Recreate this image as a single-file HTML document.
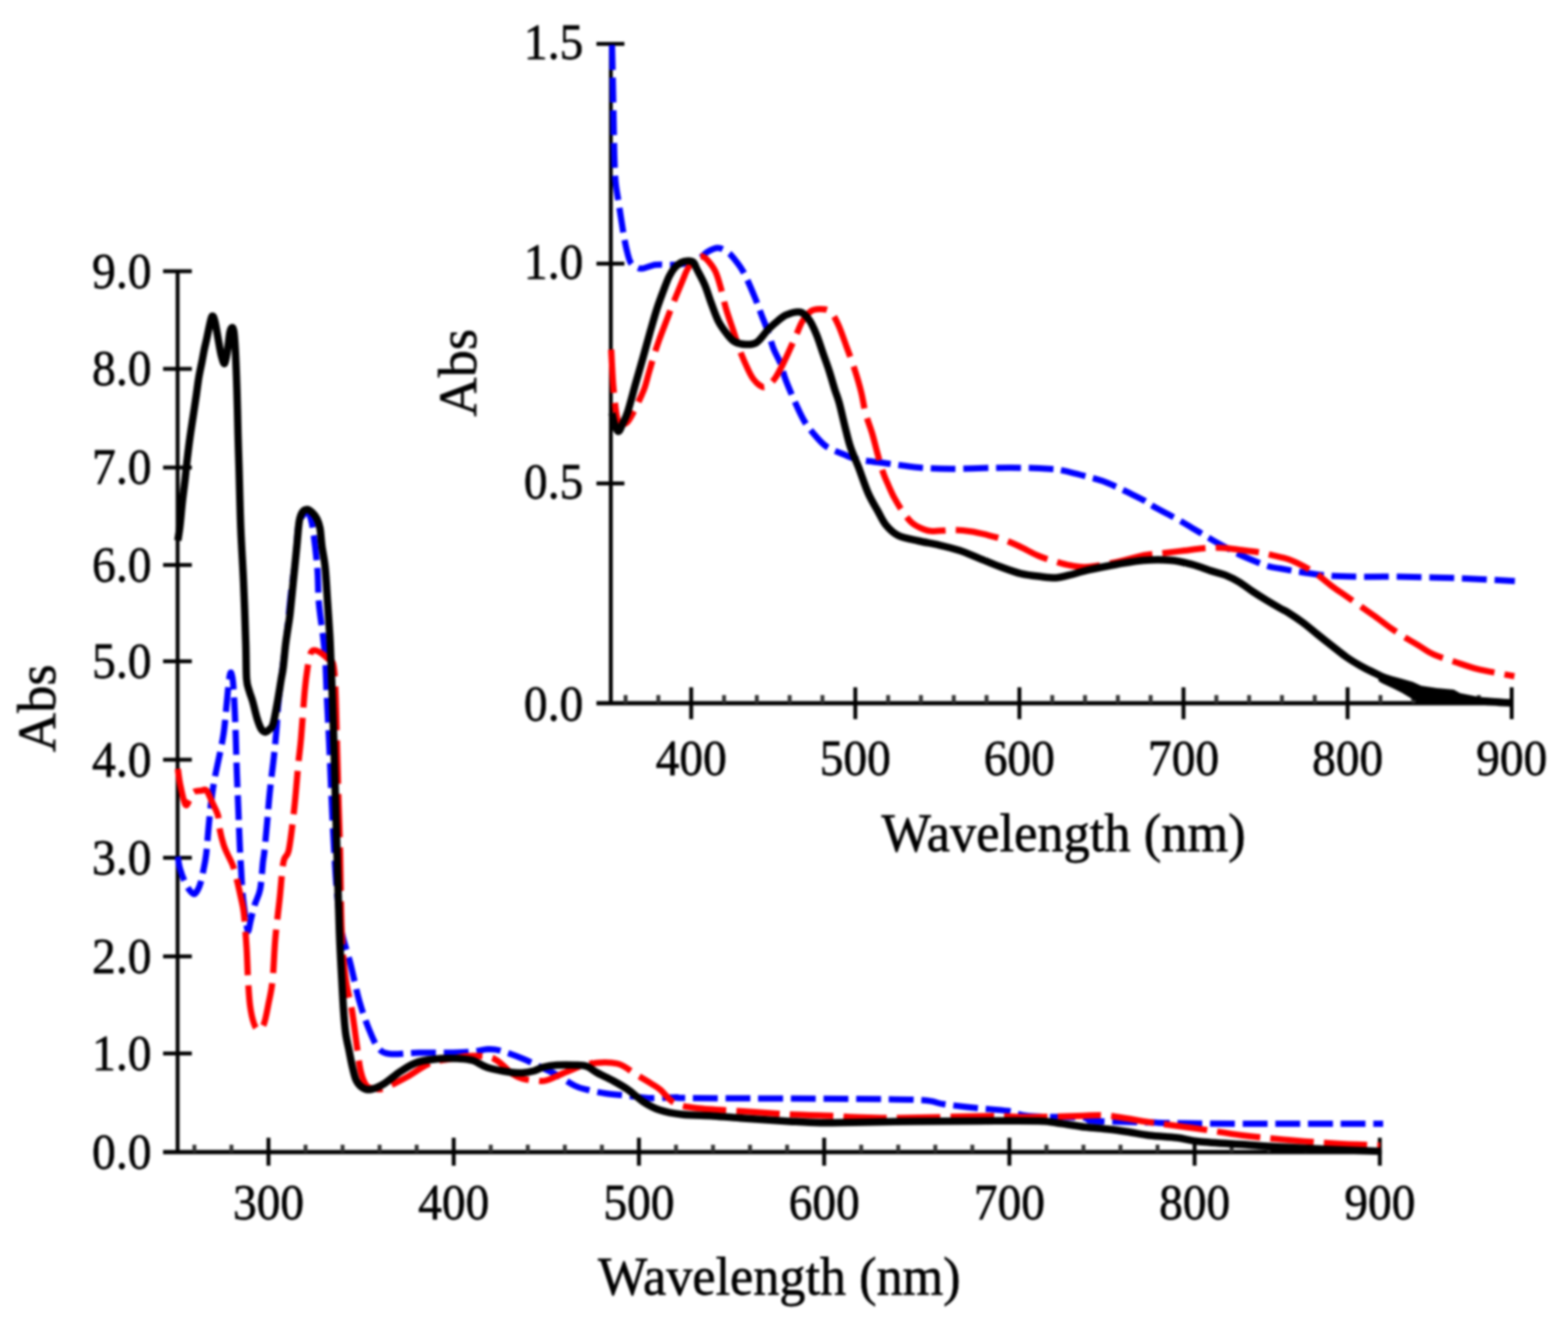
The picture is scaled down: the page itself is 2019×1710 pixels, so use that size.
<!DOCTYPE html>
<html><head><meta charset="utf-8"><title>Absorbance spectra</title>
<style>
html,body{margin:0;padding:0;background:#fff;}
body{width:2019px;height:1710px;overflow:hidden;}
svg{display:block;filter:blur(1.8px);}
text{font-family:'Liberation Serif','Times New Roman',Times,serif;fill:#000;stroke:#000;stroke-width:0.8px;}
.tk{font-size:65px;}
.ax{font-size:70px;}
.ab{font-size:70px;}
</style></head><body>
<svg width="2019" height="1710" viewBox="0 0 2019 1710">
<rect width="2019" height="1710" fill="#fff"/>

<g stroke="#000" fill="none" stroke-linecap="butt">
<line x1="228.7" y1="349" x2="228.7" y2="1486.0" stroke-width="5"/>
<line x1="210" y1="1483.5" x2="1779.2" y2="1483.5" stroke-width="5.5"/>
<line x1="210" y1="1483.5" x2="247" y2="1483.5" stroke-width="5"/>
<line x1="210" y1="1356.5" x2="247" y2="1356.5" stroke-width="5"/>
<line x1="210" y1="1231.6" x2="247" y2="1231.6" stroke-width="5"/>
<line x1="210" y1="1104.6" x2="247" y2="1104.6" stroke-width="5"/>
<line x1="210" y1="978.2" x2="247" y2="978.2" stroke-width="5"/>
<line x1="210" y1="851.5" x2="247" y2="851.5" stroke-width="5"/>
<line x1="210" y1="727.6" x2="247" y2="727.6" stroke-width="5"/>
<line x1="210" y1="602.0" x2="247" y2="602.0" stroke-width="5"/>
<line x1="210" y1="475.0" x2="247" y2="475.0" stroke-width="5"/>
<line x1="210" y1="349.3" x2="247" y2="349.3" stroke-width="5"/>
<line x1="345.7" y1="1465" x2="345.7" y2="1501" stroke-width="5"/>
<line x1="584.2" y1="1465" x2="584.2" y2="1501" stroke-width="5"/>
<line x1="822.7" y1="1465" x2="822.7" y2="1501" stroke-width="5"/>
<line x1="1061.2" y1="1465" x2="1061.2" y2="1501" stroke-width="5"/>
<line x1="1299.7" y1="1465" x2="1299.7" y2="1501" stroke-width="5"/>
<line x1="1538.2" y1="1465" x2="1538.2" y2="1501" stroke-width="5"/>
<line x1="1776.7" y1="1465" x2="1776.7" y2="1501" stroke-width="5"/>
<line x1="250.3" y1="1474" x2="250.3" y2="1483.5" stroke-width="5" stroke="#333"/>
<line x1="298.0" y1="1474" x2="298.0" y2="1483.5" stroke-width="5" stroke="#333"/>
<line x1="393.4" y1="1474" x2="393.4" y2="1483.5" stroke-width="5" stroke="#333"/>
<line x1="441.1" y1="1474" x2="441.1" y2="1483.5" stroke-width="5" stroke="#333"/>
<line x1="488.8" y1="1474" x2="488.8" y2="1483.5" stroke-width="5" stroke="#333"/>
<line x1="536.5" y1="1474" x2="536.5" y2="1483.5" stroke-width="5" stroke="#333"/>
<line x1="631.9" y1="1474" x2="631.9" y2="1483.5" stroke-width="5" stroke="#333"/>
<line x1="679.6" y1="1474" x2="679.6" y2="1483.5" stroke-width="5" stroke="#333"/>
<line x1="727.3" y1="1474" x2="727.3" y2="1483.5" stroke-width="5" stroke="#333"/>
<line x1="775.0" y1="1474" x2="775.0" y2="1483.5" stroke-width="5" stroke="#333"/>
<line x1="870.4" y1="1474" x2="870.4" y2="1483.5" stroke-width="5" stroke="#333"/>
<line x1="918.1" y1="1474" x2="918.1" y2="1483.5" stroke-width="5" stroke="#333"/>
<line x1="965.8" y1="1474" x2="965.8" y2="1483.5" stroke-width="5" stroke="#333"/>
<line x1="1013.5" y1="1474" x2="1013.5" y2="1483.5" stroke-width="5" stroke="#333"/>
<line x1="1108.9" y1="1474" x2="1108.9" y2="1483.5" stroke-width="5" stroke="#333"/>
<line x1="1156.6" y1="1474" x2="1156.6" y2="1483.5" stroke-width="5" stroke="#333"/>
<line x1="1204.3" y1="1474" x2="1204.3" y2="1483.5" stroke-width="5" stroke="#333"/>
<line x1="1252.0" y1="1474" x2="1252.0" y2="1483.5" stroke-width="5" stroke="#333"/>
<line x1="1347.4" y1="1474" x2="1347.4" y2="1483.5" stroke-width="5" stroke="#333"/>
<line x1="1395.1" y1="1474" x2="1395.1" y2="1483.5" stroke-width="5" stroke="#333"/>
<line x1="1442.8" y1="1474" x2="1442.8" y2="1483.5" stroke-width="5" stroke="#333"/>
<line x1="1490.5" y1="1474" x2="1490.5" y2="1483.5" stroke-width="5" stroke="#333"/>
<line x1="1585.9" y1="1474" x2="1585.9" y2="1483.5" stroke-width="5" stroke="#333"/>
<line x1="1633.6" y1="1474" x2="1633.6" y2="1483.5" stroke-width="5" stroke="#333"/>
<line x1="1681.3" y1="1474" x2="1681.3" y2="1483.5" stroke-width="5" stroke="#333"/>
<line x1="1729.0" y1="1474" x2="1729.0" y2="1483.5" stroke-width="5" stroke="#333"/>
</g>
<text class="tk" x="195" y="1504.8" text-anchor="end" textLength="76.4" lengthAdjust="spacingAndGlyphs">0.0</text>
<text class="tk" x="195" y="1377.8" text-anchor="end" textLength="76.4" lengthAdjust="spacingAndGlyphs">1.0</text>
<text class="tk" x="195" y="1252.9" text-anchor="end" textLength="76.4" lengthAdjust="spacingAndGlyphs">2.0</text>
<text class="tk" x="195" y="1125.9" text-anchor="end" textLength="76.4" lengthAdjust="spacingAndGlyphs">3.0</text>
<text class="tk" x="195" y="999.5" text-anchor="end" textLength="76.4" lengthAdjust="spacingAndGlyphs">4.0</text>
<text class="tk" x="195" y="872.8" text-anchor="end" textLength="76.4" lengthAdjust="spacingAndGlyphs">5.0</text>
<text class="tk" x="195" y="748.9" text-anchor="end" textLength="76.4" lengthAdjust="spacingAndGlyphs">6.0</text>
<text class="tk" x="195" y="623.3" text-anchor="end" textLength="76.4" lengthAdjust="spacingAndGlyphs">7.0</text>
<text class="tk" x="195" y="496.3" text-anchor="end" textLength="76.4" lengthAdjust="spacingAndGlyphs">8.0</text>
<text class="tk" x="195" y="370.6" text-anchor="end" textLength="76.4" lengthAdjust="spacingAndGlyphs">9.0</text>
<text class="tk" x="299.9" y="1569.5" textLength="91.6" lengthAdjust="spacingAndGlyphs">300</text>
<text class="tk" x="538.4" y="1569.5" textLength="91.6" lengthAdjust="spacingAndGlyphs">400</text>
<text class="tk" x="776.9" y="1569.5" textLength="91.6" lengthAdjust="spacingAndGlyphs">500</text>
<text class="tk" x="1015.4" y="1569.5" textLength="91.6" lengthAdjust="spacingAndGlyphs">600</text>
<text class="tk" x="1253.9" y="1569.5" textLength="91.6" lengthAdjust="spacingAndGlyphs">700</text>
<text class="tk" x="1492.4" y="1569.5" textLength="91.6" lengthAdjust="spacingAndGlyphs">800</text>
<text class="tk" x="1730.9" y="1569.5" textLength="91.6" lengthAdjust="spacingAndGlyphs">900</text>
<text class="ax" x="770" y="1667" textLength="467" lengthAdjust="spacingAndGlyphs">Wavelength (nm)</text>
<text class="ab" transform="translate(70.5 912) rotate(-90)" text-anchor="middle">Abs</text>
<g stroke="#000" fill="none" stroke-linecap="butt">
<line x1="786.5" y1="56" x2="786.5" y2="908.0" stroke-width="5"/>
<line x1="768" y1="905.5" x2="1949.0" y2="905.5" stroke-width="5.5"/>
<line x1="768" y1="905.5" x2="804" y2="905.5" stroke-width="5"/>
<line x1="768" y1="622.5" x2="804" y2="622.5" stroke-width="5"/>
<line x1="768" y1="339.5" x2="804" y2="339.5" stroke-width="5"/>
<line x1="768" y1="56.5" x2="804" y2="56.5" stroke-width="5"/>
<line x1="890.0" y1="885" x2="890.0" y2="926" stroke-width="5"/>
<line x1="1101.3" y1="885" x2="1101.3" y2="926" stroke-width="5"/>
<line x1="1312.6" y1="885" x2="1312.6" y2="926" stroke-width="5"/>
<line x1="1523.9" y1="885" x2="1523.9" y2="926" stroke-width="5"/>
<line x1="1735.2" y1="885" x2="1735.2" y2="926" stroke-width="5"/>
<line x1="1946.5" y1="885" x2="1946.5" y2="926" stroke-width="5"/>
<line x1="805.5" y1="895" x2="805.5" y2="905.5" stroke-width="5" stroke="#333"/>
<line x1="847.7" y1="895" x2="847.7" y2="905.5" stroke-width="5" stroke="#333"/>
<line x1="932.3" y1="895" x2="932.3" y2="905.5" stroke-width="5" stroke="#333"/>
<line x1="974.5" y1="895" x2="974.5" y2="905.5" stroke-width="5" stroke="#333"/>
<line x1="1016.8" y1="895" x2="1016.8" y2="905.5" stroke-width="5" stroke="#333"/>
<line x1="1059.0" y1="895" x2="1059.0" y2="905.5" stroke-width="5" stroke="#333"/>
<line x1="1143.6" y1="895" x2="1143.6" y2="905.5" stroke-width="5" stroke="#333"/>
<line x1="1185.8" y1="895" x2="1185.8" y2="905.5" stroke-width="5" stroke="#333"/>
<line x1="1228.1" y1="895" x2="1228.1" y2="905.5" stroke-width="5" stroke="#333"/>
<line x1="1270.3" y1="895" x2="1270.3" y2="905.5" stroke-width="5" stroke="#333"/>
<line x1="1354.9" y1="895" x2="1354.9" y2="905.5" stroke-width="5" stroke="#333"/>
<line x1="1397.1" y1="895" x2="1397.1" y2="905.5" stroke-width="5" stroke="#333"/>
<line x1="1439.4" y1="895" x2="1439.4" y2="905.5" stroke-width="5" stroke="#333"/>
<line x1="1481.6" y1="895" x2="1481.6" y2="905.5" stroke-width="5" stroke="#333"/>
<line x1="1566.2" y1="895" x2="1566.2" y2="905.5" stroke-width="5" stroke="#333"/>
<line x1="1608.4" y1="895" x2="1608.4" y2="905.5" stroke-width="5" stroke="#333"/>
<line x1="1650.7" y1="895" x2="1650.7" y2="905.5" stroke-width="5" stroke="#333"/>
<line x1="1692.9" y1="895" x2="1692.9" y2="905.5" stroke-width="5" stroke="#333"/>
<line x1="1777.5" y1="895" x2="1777.5" y2="905.5" stroke-width="5" stroke="#333"/>
<line x1="1819.7" y1="895" x2="1819.7" y2="905.5" stroke-width="5" stroke="#333"/>
<line x1="1862.0" y1="895" x2="1862.0" y2="905.5" stroke-width="5" stroke="#333"/>
<line x1="1904.2" y1="895" x2="1904.2" y2="905.5" stroke-width="5" stroke="#333"/>
</g>
<text class="tk" x="751" y="928.3" text-anchor="end" textLength="76.4" lengthAdjust="spacingAndGlyphs">0.0</text>
<text class="tk" x="751" y="642.3" text-anchor="end" textLength="76.4" lengthAdjust="spacingAndGlyphs">0.5</text>
<text class="tk" x="751" y="359.3" text-anchor="end" textLength="76.4" lengthAdjust="spacingAndGlyphs">1.0</text>
<text class="tk" x="751" y="76.3" text-anchor="end" textLength="76.4" lengthAdjust="spacingAndGlyphs">1.5</text>
<text class="tk" x="844.2" y="997.5" textLength="91.6" lengthAdjust="spacingAndGlyphs">400</text>
<text class="tk" x="1055.5" y="997.5" textLength="91.6" lengthAdjust="spacingAndGlyphs">500</text>
<text class="tk" x="1266.8" y="997.5" textLength="91.6" lengthAdjust="spacingAndGlyphs">600</text>
<text class="tk" x="1478.1" y="997.5" textLength="91.6" lengthAdjust="spacingAndGlyphs">700</text>
<text class="tk" x="1689.4" y="997.5" textLength="91.6" lengthAdjust="spacingAndGlyphs">800</text>
<text class="tk" x="1900.7" y="997.5" textLength="91.6" lengthAdjust="spacingAndGlyphs">900</text>
<text class="ax" x="1135" y="1095.5" textLength="469" lengthAdjust="spacingAndGlyphs">Wavelength (nm)</text>
<text class="ab" transform="translate(613 480) rotate(-90)" text-anchor="middle">Abs</text>
<path d="M229.0 1103.0C229.4 1105.5 229.8 1111.8 231.6 1118.0C233.4 1124.2 237.1 1134.5 240.0 1140.0C242.9 1145.5 246.7 1149.8 249.0 1151.0C251.3 1152.2 252.4 1149.5 254.0 1147.0C255.6 1144.5 257.2 1140.5 258.5 1136.0C259.8 1131.5 260.8 1126.0 262.0 1120.0C263.2 1114.0 264.4 1109.0 265.5 1100.0C266.6 1091.0 267.5 1076.7 268.5 1066.0C269.5 1055.3 270.4 1045.7 271.5 1036.0C272.6 1026.3 274.0 1016.5 275.4 1008.0C276.8 999.5 277.9 995.3 280.0 985.0C282.1 974.7 285.7 959.3 287.7 946.0C289.7 932.7 290.8 916.8 292.0 905.0C293.2 893.2 294.1 881.5 295.0 875.0C295.9 868.5 296.7 865.5 297.5 866.0C298.3 866.5 299.2 870.7 300.0 878.0C300.8 885.3 301.4 898.7 302.0 910.0C302.6 921.3 303.0 931.8 303.5 946.0C304.0 960.2 304.4 978.5 305.0 995.0C305.6 1011.5 306.4 1029.2 307.0 1045.0C307.6 1060.8 308.2 1077.5 308.8 1090.0C309.4 1102.5 309.9 1110.0 310.5 1120.0C311.1 1130.0 311.4 1140.0 312.3 1150.0C313.2 1160.0 314.8 1171.8 316.0 1180.0C317.2 1188.2 318.2 1198.2 319.3 1199.0C320.4 1199.8 321.4 1190.7 322.8 1185.0C324.2 1179.3 326.0 1171.7 328.0 1165.0C330.0 1158.3 333.2 1154.2 335.0 1145.0C336.8 1135.8 337.7 1118.0 338.6 1110.0C339.5 1102.0 339.5 1105.3 340.4 1097.0C341.3 1088.7 342.7 1072.8 343.9 1060.0C345.1 1047.2 345.9 1034.2 347.4 1020.0C348.8 1005.8 351.2 988.3 352.6 975.0C354.0 961.7 355.1 950.8 356.0 940.0C356.9 929.2 357.0 920.8 358.0 910.0C359.0 899.2 360.8 885.0 362.0 875.0C363.2 865.0 363.8 859.3 365.0 850.0C366.2 840.7 367.3 834.2 369.0 819.3C370.7 804.4 373.0 777.8 375.0 760.8C377.0 743.8 379.4 730.5 380.8 717.0C382.2 703.5 382.5 688.3 383.7 680.0C384.9 671.7 386.4 670.2 388.0 667.0C389.6 663.8 391.3 661.8 393.0 661.0C394.7 660.2 396.4 658.8 398.0 662.0C399.6 665.2 400.9 668.4 402.7 680.0C404.5 691.6 407.3 715.7 408.6 731.6C409.9 747.5 409.3 760.8 410.5 775.4C411.7 790.0 414.5 807.1 415.9 819.3C417.3 831.5 417.9 835.0 418.8 848.5C419.7 862.0 420.1 881.4 421.0 900.0C421.9 918.6 423.0 938.3 424.0 960.0C425.0 981.7 426.0 1008.3 427.0 1030.0C428.0 1051.7 428.8 1070.0 430.0 1090.0C431.2 1110.0 432.3 1131.7 434.0 1150.0C435.7 1168.3 437.2 1185.0 440.0 1200.0C442.8 1215.0 447.2 1225.0 451.0 1240.0C454.8 1255.0 458.9 1275.7 463.0 1290.0C467.1 1304.3 471.4 1316.2 475.4 1326.0C479.4 1335.8 482.5 1343.8 486.9 1349.0C491.3 1354.2 493.0 1355.9 501.7 1357.0C510.4 1358.1 525.3 1355.8 538.9 1355.5C552.5 1355.2 571.5 1355.8 583.4 1355.5C595.2 1355.2 602.6 1354.8 610.0 1354.0C617.4 1353.2 622.5 1351.2 628.0 1351.0C633.5 1350.8 635.5 1350.5 642.9 1352.5C650.3 1354.5 663.9 1359.5 672.6 1363.0C681.3 1366.5 687.5 1369.8 694.9 1373.3C702.3 1376.8 709.5 1379.9 717.0 1384.0C724.5 1388.1 733.6 1394.8 740.0 1398.0C746.4 1401.2 748.7 1401.3 755.4 1403.0C762.1 1404.7 771.1 1406.7 780.0 1408.0C788.9 1409.3 799.2 1410.0 809.0 1411.0C818.8 1412.0 828.4 1413.7 838.6 1414.0C848.8 1414.3 860.8 1413.0 870.0 1413.0C879.2 1413.0 855.7 1413.7 894.0 1414.0C932.3 1414.3 1051.2 1414.6 1100.0 1415.0C1148.8 1415.4 1168.0 1415.5 1187.0 1416.6C1206.0 1417.7 1202.7 1419.9 1214.0 1421.6C1225.3 1423.2 1241.0 1425.0 1255.0 1426.5C1269.0 1428.0 1286.5 1428.8 1298.0 1430.5C1309.5 1432.2 1307.3 1435.5 1323.8 1437.0C1340.3 1438.5 1383.1 1438.3 1397.0 1439.4C1410.9 1440.5 1392.8 1442.4 1407.0 1443.4C1421.2 1444.4 1466.5 1444.9 1482.0 1445.3C1497.5 1445.7 1480.3 1445.7 1500.0 1446.0C1519.7 1446.3 1553.2 1446.8 1600.0 1447.0C1646.8 1447.2 1750.8 1447.0 1781.0 1447.0" fill="none" stroke="#0000ff" stroke-width="8" stroke-linejoin="round" stroke-dasharray="32 10"/>
<path d="M229.0 990.0C229.5 993.3 230.4 1002.3 232.0 1010.0C233.6 1017.7 236.6 1032.7 238.6 1036.0C240.6 1039.3 242.3 1032.7 244.0 1030.0C245.7 1027.3 246.4 1022.0 249.0 1020.0C251.6 1018.0 256.8 1018.3 259.6 1018.0C262.4 1017.7 263.6 1015.3 266.0 1018.0C268.4 1020.7 271.2 1028.7 273.7 1034.0C276.1 1039.3 279.1 1044.3 280.7 1050.0C282.2 1055.7 281.8 1061.7 283.0 1068.0C284.2 1074.3 286.3 1082.7 288.0 1088.0C289.7 1093.3 291.0 1095.5 293.0 1100.0C295.0 1104.5 298.0 1109.5 300.0 1115.0C302.0 1120.5 303.3 1126.3 305.0 1133.0C306.7 1139.7 308.5 1147.8 310.0 1155.0C311.5 1162.2 312.8 1165.2 314.0 1176.0C315.2 1186.8 316.6 1206.0 317.5 1220.0C318.4 1234.0 318.6 1247.5 319.3 1260.0C320.1 1272.5 320.7 1285.3 322.0 1295.0C323.3 1304.7 325.2 1312.8 327.0 1318.0C328.8 1323.2 330.8 1326.0 333.0 1326.0C335.2 1326.0 337.9 1323.5 340.0 1318.0C342.1 1312.5 343.8 1302.2 345.6 1293.0C347.4 1283.8 349.4 1276.8 350.9 1263.0C352.4 1249.2 352.9 1227.5 354.4 1210.0C355.9 1192.5 358.2 1174.7 360.0 1158.0C361.8 1141.3 363.0 1120.7 365.0 1110.0C367.0 1099.3 369.7 1105.7 372.0 1094.0C374.3 1082.3 377.0 1058.2 379.0 1040.0C381.0 1021.8 382.6 1000.0 384.0 985.0C385.4 970.0 386.3 966.1 387.7 950.0C389.1 933.9 391.1 903.5 392.5 888.5C393.9 873.5 394.9 867.2 396.0 860.0C397.1 852.8 398.0 848.7 399.0 845.0C400.0 841.3 400.5 839.2 402.0 838.0C403.5 836.8 405.8 837.3 408.0 838.0C410.2 838.7 412.7 840.3 415.0 842.0C417.3 843.7 419.7 845.8 422.0 848.0C424.3 850.2 427.3 848.0 429.0 855.0C430.7 862.0 431.2 872.5 432.0 890.0C432.8 907.5 433.3 935.8 434.0 960.0C434.7 984.2 435.3 1011.7 436.0 1035.0C436.7 1058.3 437.3 1072.5 438.0 1100.0C438.7 1127.5 438.8 1173.3 440.0 1200.0C441.2 1226.7 442.8 1243.3 445.0 1260.0C447.2 1276.7 450.5 1285.0 453.0 1300.0C455.5 1315.0 458.1 1336.7 460.0 1350.0C461.9 1363.3 462.6 1372.0 464.6 1380.0C466.6 1388.0 469.1 1394.4 472.0 1398.0C474.9 1401.6 478.3 1401.0 482.0 1401.6C485.7 1402.2 487.0 1404.1 494.0 1401.6C501.0 1399.1 514.0 1392.1 524.0 1386.7C534.0 1381.3 543.8 1373.0 553.7 1369.0C563.6 1365.0 575.7 1364.5 583.4 1363.0C591.1 1361.5 593.8 1360.5 600.0 1360.0C606.2 1359.5 614.7 1359.5 620.6 1360.0C626.5 1360.5 630.9 1361.0 635.5 1363.0C640.1 1365.0 643.9 1368.7 648.0 1372.0C652.1 1375.3 655.9 1380.2 660.0 1383.0C664.1 1385.8 667.6 1387.6 672.6 1389.0C677.6 1390.4 684.8 1391.2 690.0 1391.5C695.2 1391.8 697.3 1392.9 704.0 1391.0C710.7 1389.1 720.8 1383.6 730.0 1380.0C739.2 1376.4 748.6 1371.3 759.4 1369.6C770.2 1367.9 785.1 1367.3 795.0 1369.6C804.9 1371.9 811.5 1379.2 818.8 1383.5C826.1 1387.8 833.3 1392.0 838.6 1395.3C843.9 1398.6 845.5 1399.2 850.5 1403.3C855.5 1407.4 860.4 1416.0 868.3 1420.0C876.2 1424.0 883.1 1425.2 898.0 1427.0C912.9 1428.8 937.6 1429.7 957.4 1431.0C977.2 1432.3 997.0 1434.0 1016.8 1435.0C1036.6 1436.0 1062.1 1436.4 1076.0 1437.0C1089.9 1437.6 1086.2 1438.1 1100.0 1438.5C1113.8 1438.9 1129.3 1439.7 1159.0 1439.4C1188.7 1439.2 1251.5 1437.2 1278.0 1437.0C1304.5 1436.8 1299.8 1438.5 1318.0 1438.5C1336.2 1438.5 1370.0 1437.4 1387.0 1437.0C1404.0 1436.6 1409.5 1435.5 1420.0 1436.0C1430.5 1436.5 1440.0 1438.5 1450.0 1440.0C1460.0 1441.5 1465.0 1442.8 1480.0 1445.0C1495.0 1447.2 1520.0 1450.2 1540.0 1453.0C1560.0 1455.8 1580.0 1459.5 1600.0 1462.0C1620.0 1464.5 1640.0 1466.2 1660.0 1468.0C1680.0 1469.8 1700.5 1471.3 1720.0 1472.5C1739.5 1473.7 1767.5 1474.6 1777.0 1475.0" fill="none" stroke="#ff0000" stroke-width="8" stroke-linejoin="round" stroke-dasharray="56 13"/>
<path d="M229.0 696.0C229.5 692.8 230.9 684.5 231.8 676.5C232.7 668.5 233.6 657.4 234.6 648.0C235.6 638.6 236.9 629.3 238.0 620.0C239.1 610.7 239.9 601.3 241.0 592.0C242.1 582.7 243.2 573.3 244.5 564.0C245.8 554.7 247.3 545.3 248.7 536.0C250.1 526.7 251.7 516.3 252.9 508.0C254.1 499.7 254.8 493.0 256.0 486.0C257.2 479.0 258.8 472.0 260.0 466.0C261.2 460.0 262.0 454.8 263.0 450.0C264.0 445.2 264.8 442.3 266.0 437.0C267.2 431.7 268.8 423.0 270.0 418.0C271.2 413.0 272.3 407.5 273.5 407.0C274.7 406.5 275.8 410.0 277.0 415.0C278.2 420.0 279.7 429.8 281.0 437.0C282.3 444.2 283.6 452.8 285.0 458.0C286.4 463.2 288.0 469.3 289.3 468.0C290.6 466.7 291.9 456.7 293.0 450.0C294.1 443.3 295.1 432.7 296.0 428.0C296.9 423.3 297.7 422.3 298.5 422.0C299.3 421.7 300.2 421.3 301.0 426.0C301.8 430.7 302.3 437.7 303.0 450.0C303.7 462.3 304.4 481.7 305.0 500.0C305.6 518.3 306.1 543.3 306.5 560.0C306.9 576.7 307.1 580.0 307.7 600.0C308.3 620.0 309.0 655.0 310.0 680.0C311.0 705.0 312.5 725.0 313.6 750.0C314.7 775.0 315.9 809.3 316.5 830.0C317.1 850.7 316.8 864.0 317.5 874.0C318.2 884.0 319.7 885.2 321.0 890.0C322.3 894.8 323.6 897.2 325.3 903.0C327.0 908.8 329.2 919.2 331.0 925.0C332.8 930.8 334.3 935.1 336.0 938.0C337.7 940.9 339.6 942.3 341.3 942.6C343.0 942.9 344.3 941.7 346.0 940.0C347.7 938.3 349.7 938.5 351.6 932.3C353.5 926.1 355.7 912.5 357.4 903.0C359.1 893.5 360.8 882.3 362.0 875.0C363.2 867.7 363.8 866.7 364.7 859.2C365.6 851.7 366.7 838.2 367.7 830.0C368.7 821.8 369.6 816.7 370.6 810.0C371.6 803.3 372.3 800.6 373.5 790.0C374.7 779.4 376.4 760.8 377.9 746.2C379.4 731.6 381.1 714.7 382.3 702.3C383.5 689.9 384.1 679.0 385.2 672.0C386.3 665.0 387.3 662.7 389.0 660.0C390.7 657.3 393.2 656.0 395.4 656.0C397.6 656.0 399.9 658.0 402.0 660.0C404.1 662.0 406.3 664.7 408.0 668.0C409.7 671.3 410.9 674.3 412.0 680.0C413.1 685.7 413.3 693.7 414.4 702.3C415.5 710.9 417.6 719.4 418.8 731.6C420.0 743.8 420.8 760.8 421.8 775.4C422.8 790.0 424.0 807.1 424.7 819.3C425.4 831.5 425.4 835.0 426.0 848.5C426.6 862.0 427.3 881.4 428.0 900.0C428.7 918.6 429.3 938.3 430.0 960.0C430.7 981.7 431.3 1006.7 432.0 1030.0C432.7 1053.3 433.2 1071.7 434.0 1100.0C434.8 1128.3 436.0 1173.3 437.0 1200.0C438.0 1226.7 439.1 1243.3 440.0 1260.0C440.9 1276.7 441.5 1288.3 442.3 1300.0C443.1 1311.7 443.8 1321.0 445.0 1330.0C446.2 1339.0 448.2 1346.5 449.7 1354.0C451.2 1361.5 452.5 1368.8 454.0 1375.0C455.5 1381.2 456.6 1386.8 458.6 1391.0C460.6 1395.2 463.0 1398.0 466.0 1400.0C469.0 1402.0 471.8 1403.7 476.5 1403.0C481.2 1402.3 487.6 1399.6 494.3 1395.6C501.0 1391.6 509.2 1383.7 516.6 1379.0C524.0 1374.3 530.2 1370.1 538.9 1367.4C547.6 1364.7 560.1 1363.7 568.6 1363.0C577.1 1362.3 583.3 1362.6 590.0 1363.0C596.7 1363.4 602.7 1363.5 609.0 1365.5C615.3 1367.5 619.9 1372.2 628.0 1374.8C636.1 1377.3 650.4 1379.7 657.7 1380.8C665.0 1381.9 667.0 1381.8 672.0 1381.5C677.0 1381.2 682.8 1380.2 687.5 1379.0C692.2 1377.8 695.1 1375.2 700.0 1374.0C704.9 1372.8 710.3 1372.0 717.0 1371.6C723.7 1371.2 733.6 1371.3 740.0 1371.5C746.4 1371.7 750.5 1371.3 755.4 1373.0C760.3 1374.7 763.7 1378.4 769.3 1381.5C774.9 1384.6 782.4 1387.8 789.0 1391.4C795.6 1395.0 802.4 1398.7 809.0 1403.3C815.6 1407.9 822.1 1414.7 828.7 1419.0C835.3 1423.3 840.3 1426.3 848.5 1429.0C856.7 1431.7 866.5 1433.7 878.0 1435.0C889.5 1436.3 904.6 1436.2 917.8 1437.0C931.0 1437.8 940.9 1438.8 957.4 1440.0C973.9 1441.2 1000.3 1442.9 1016.8 1443.9C1033.3 1444.9 1042.5 1445.6 1056.4 1445.8C1070.3 1446.0 1079.6 1445.6 1100.0 1445.3C1120.4 1445.0 1152.3 1444.3 1179.0 1444.0C1205.7 1443.7 1233.6 1443.5 1260.0 1443.4C1286.4 1443.3 1320.1 1442.9 1337.6 1443.4C1355.1 1443.9 1355.1 1445.2 1365.0 1446.5C1374.9 1447.8 1386.7 1450.0 1397.0 1451.3C1407.3 1452.5 1417.7 1453.0 1426.7 1454.0C1435.7 1455.0 1442.1 1455.9 1451.0 1457.2C1459.9 1458.5 1469.2 1460.7 1480.0 1462.0C1490.8 1463.3 1504.9 1463.7 1515.7 1465.0C1526.5 1466.3 1530.2 1468.5 1545.0 1470.0C1559.8 1471.5 1587.3 1472.8 1604.8 1474.0C1622.3 1475.2 1632.2 1476.0 1650.0 1477.0C1667.8 1478.0 1690.6 1479.1 1711.8 1480.0C1733.0 1480.9 1766.1 1482.1 1777.0 1482.5" fill="none" stroke="#000" stroke-width="9.5" stroke-linejoin="round"/>
<path d="M788.0 58.0C788.2 65.0 788.7 84.7 789.0 100.0C789.3 115.3 789.7 133.3 790.0 150.0C790.3 166.7 790.6 186.2 791.0 200.0C791.4 213.8 791.7 223.5 792.5 233.0C793.3 242.5 794.8 249.2 796.0 257.0C797.2 264.8 798.3 272.5 799.5 280.0C800.7 287.5 801.8 295.0 803.0 302.0C804.2 309.0 805.5 316.0 807.0 322.0C808.5 328.0 809.8 334.2 812.0 338.0C814.2 341.8 817.3 343.2 820.0 344.5C822.7 345.8 824.0 346.2 828.0 345.6C832.0 345.0 838.4 341.8 843.7 341.0C849.0 340.2 854.8 341.1 860.0 341.0C865.2 340.9 869.0 341.2 875.0 340.4C881.0 339.6 890.4 338.6 896.3 336.0C902.2 333.4 905.7 327.4 910.4 324.6C915.1 321.8 920.0 319.3 924.4 319.3C928.8 319.3 933.2 322.3 936.7 324.6C940.2 326.9 941.9 328.9 945.4 333.3C948.9 337.7 953.3 342.8 957.7 351.0C962.1 359.2 968.0 373.4 971.8 382.5C975.6 391.6 977.6 397.7 980.5 405.3C983.4 412.9 986.7 420.7 989.3 428.0C991.9 435.3 993.4 442.3 996.0 449.0C998.6 455.7 1002.3 461.2 1005.0 468.0C1007.7 474.8 1008.5 480.9 1012.0 490.0C1015.5 499.1 1021.9 513.8 1026.0 522.8C1030.1 531.8 1032.6 537.5 1036.7 544.0C1040.8 550.5 1046.0 556.8 1050.7 562.0C1055.4 567.2 1058.8 571.6 1064.7 575.4C1070.6 579.2 1079.8 582.3 1086.3 585.0C1092.8 587.7 1094.2 589.4 1103.9 591.4C1113.6 593.4 1131.1 595.2 1144.2 597.0C1157.3 598.8 1169.3 600.9 1182.8 602.0C1196.3 603.1 1208.9 603.6 1225.0 603.7C1241.1 603.8 1263.5 602.7 1279.3 602.5C1295.1 602.3 1307.6 602.3 1319.6 602.5C1331.5 602.7 1343.0 603.2 1351.0 603.7C1359.0 604.2 1358.9 603.8 1367.5 605.6C1376.1 607.4 1393.8 612.1 1402.6 614.4C1411.4 616.7 1414.3 617.5 1420.2 619.6C1426.1 621.7 1432.4 624.6 1437.7 627.0C1443.0 629.4 1446.0 630.8 1451.8 633.7C1457.6 636.6 1467.0 641.0 1472.8 644.2C1478.6 647.4 1479.5 648.9 1486.8 653.0C1494.1 657.1 1508.8 664.6 1516.7 669.0C1524.6 673.4 1528.4 675.8 1534.2 679.3C1540.0 682.8 1546.0 686.3 1551.8 689.8C1557.6 693.2 1563.5 696.8 1569.3 700.0C1575.1 703.2 1581.8 706.5 1586.8 709.1C1591.8 711.7 1591.7 712.3 1599.0 715.5C1606.3 718.7 1622.5 725.6 1630.7 728.4C1638.9 731.1 1640.4 730.6 1648.2 732.0C1656.0 733.4 1666.3 735.4 1677.4 737.0C1688.5 738.6 1702.4 740.7 1714.9 741.6C1727.4 742.5 1738.3 742.4 1752.3 742.6C1766.3 742.8 1778.7 742.3 1799.0 742.6C1819.3 742.9 1848.7 743.5 1874.0 744.4C1899.3 745.3 1937.8 747.6 1950.6 748.2" fill="none" stroke="#0000ff" stroke-width="8" stroke-linejoin="round" stroke-dasharray="32 10"/>
<path d="M787.0 450.0C787.2 453.3 787.6 462.5 788.0 470.0C788.4 477.5 788.9 487.5 789.5 495.0C790.1 502.5 790.8 508.3 791.5 515.0C792.2 521.7 792.9 529.8 794.0 535.0C795.1 540.2 795.8 544.8 798.0 546.3C800.2 547.8 804.6 546.4 807.4 544.0C810.2 541.6 812.5 536.5 815.0 532.0C817.5 527.5 819.9 522.4 822.4 517.0C824.9 511.6 827.8 505.7 830.0 499.5C832.2 493.3 833.5 486.9 835.5 480.0C837.5 473.1 839.8 465.2 842.0 458.0C844.2 450.8 846.4 444.3 849.0 437.0C851.6 429.7 854.8 421.6 857.7 414.0C860.6 406.4 863.0 400.0 866.5 391.2C870.0 382.4 875.9 368.4 878.8 361.4C881.7 354.4 882.1 352.7 884.0 349.0C885.9 345.3 888.0 341.8 890.0 339.0C892.0 336.2 893.8 333.5 896.0 332.0C898.2 330.5 900.7 329.7 903.0 330.0C905.3 330.3 907.0 330.8 910.0 334.0C913.0 337.2 917.9 343.0 920.9 349.0C923.9 355.0 925.5 361.8 927.9 370.0C930.2 378.2 932.3 388.8 935.0 398.0C937.7 407.2 941.1 416.2 944.0 425.0C946.9 433.8 949.3 442.5 952.5 450.9C955.7 459.3 960.1 469.2 963.0 475.4C965.9 481.6 967.5 484.6 970.0 488.0C972.5 491.4 975.3 494.3 978.0 496.0C980.7 497.7 982.7 499.5 986.0 498.0C989.3 496.5 994.0 492.5 998.0 487.0C1002.0 481.5 1005.6 473.9 1010.0 465.0C1014.4 456.1 1020.6 441.8 1024.4 433.3C1028.2 424.8 1029.8 419.4 1033.0 414.0C1036.2 408.6 1040.0 403.7 1043.7 401.0C1047.4 398.3 1050.8 398.0 1055.0 398.0C1059.2 398.0 1064.8 397.7 1068.8 401.0C1072.8 404.3 1075.8 410.5 1079.3 418.0C1082.8 425.5 1086.3 436.2 1089.8 445.8C1093.3 455.4 1097.2 465.7 1100.4 475.6C1103.6 485.5 1106.7 496.0 1109.0 505.4C1111.3 514.8 1112.1 523.0 1114.4 531.8C1116.7 540.6 1120.4 549.2 1123.0 558.0C1125.6 566.8 1127.7 576.1 1130.0 584.4C1132.3 592.7 1134.7 601.2 1137.0 608.0C1139.3 614.8 1141.6 619.6 1144.0 625.0C1146.4 630.4 1148.2 634.9 1151.2 640.4C1154.2 645.9 1158.0 652.5 1161.8 657.9C1165.6 663.3 1169.6 669.1 1174.0 673.0C1178.4 676.9 1183.7 679.2 1188.0 681.0C1192.3 682.8 1193.5 683.8 1200.0 684.0C1206.5 684.2 1218.5 682.5 1226.7 682.5C1235.0 682.5 1242.2 683.2 1249.5 684.2C1256.8 685.2 1263.5 686.9 1270.5 688.6C1277.5 690.4 1284.6 692.2 1291.6 694.7C1298.6 697.2 1305.0 700.0 1312.6 703.5C1320.2 707.0 1329.6 712.6 1337.2 715.8C1344.8 719.0 1351.4 720.8 1358.2 722.8C1365.0 724.8 1371.0 726.8 1378.0 728.0C1385.0 729.2 1390.2 730.7 1400.0 730.0C1409.8 729.3 1424.8 726.5 1437.0 724.0C1449.2 721.5 1462.5 717.0 1473.0 715.0C1483.5 713.0 1491.3 713.0 1500.0 712.0C1508.7 711.0 1516.7 710.0 1525.0 709.0C1533.3 708.0 1541.7 706.6 1550.0 706.0C1558.3 705.4 1567.3 705.2 1575.0 705.5C1582.7 705.8 1588.5 707.1 1596.0 708.0C1603.5 708.9 1612.7 709.8 1620.0 711.0C1627.3 712.2 1633.5 713.9 1640.0 715.4C1646.5 716.9 1652.5 717.8 1658.7 720.0C1664.9 722.2 1671.2 725.2 1677.4 728.5C1683.6 731.8 1689.8 735.4 1696.0 739.8C1702.2 744.2 1708.6 750.0 1714.9 754.7C1721.2 759.4 1727.4 763.4 1733.6 767.8C1739.8 772.2 1746.1 776.6 1752.3 781.0C1758.5 785.4 1764.8 789.5 1771.0 794.0C1777.2 798.5 1783.5 803.6 1789.7 808.0C1795.9 812.4 1802.2 816.3 1808.4 820.2C1814.6 824.1 1820.8 827.6 1827.0 831.4C1833.2 835.1 1838.0 839.2 1845.8 842.7C1853.6 846.2 1864.6 849.4 1874.0 852.5C1883.4 855.6 1892.7 859.0 1902.0 861.4C1911.3 863.8 1922.0 865.5 1930.0 867.0C1938.0 868.5 1946.7 870.1 1950.0 870.7" fill="none" stroke="#ff0000" stroke-width="8" stroke-linejoin="round" stroke-dasharray="56 13"/>
<path d="M788.0 532.0C788.6 534.5 790.1 543.1 791.5 547.0C792.9 550.9 794.8 555.8 796.5 555.5C798.2 555.2 800.0 549.2 802.0 545.0C804.0 540.8 805.5 538.8 808.2 530.5C810.9 522.2 814.7 507.1 818.0 495.4C821.3 483.7 824.7 472.1 828.0 460.4C831.3 448.7 834.7 435.8 837.7 425.3C840.7 414.8 843.2 405.9 846.0 397.2C848.8 388.5 852.0 380.2 854.6 373.3C857.2 366.4 859.3 360.7 861.6 356.0C863.9 351.3 866.0 348.0 868.6 345.0C871.2 342.0 874.1 339.5 877.0 338.0C879.9 336.5 883.3 336.0 886.0 336.0C888.7 336.0 891.2 336.3 893.0 338.0C894.8 339.7 894.6 341.2 897.0 346.0C899.4 350.8 904.4 359.5 907.5 366.8C910.6 374.1 912.8 382.2 915.7 390.0C918.6 397.8 921.5 406.8 925.0 413.6C928.5 420.4 933.3 426.6 936.8 431.0C940.3 435.4 942.1 437.9 946.0 440.0C949.9 442.1 955.3 443.3 960.0 443.5C964.7 443.7 969.3 444.2 974.2 441.0C979.1 437.8 984.9 428.6 989.4 424.0C993.9 419.4 997.1 416.7 1001.0 413.6C1004.9 410.5 1007.9 407.3 1012.8 405.4C1017.7 403.4 1025.5 400.8 1030.4 401.9C1035.3 403.0 1038.5 407.1 1042.0 412.0C1045.5 416.9 1048.5 423.9 1051.4 431.0C1054.3 438.1 1056.9 446.7 1059.6 454.5C1062.3 462.3 1065.3 470.2 1067.8 478.0C1070.3 485.8 1072.7 494.5 1074.8 501.3C1076.9 508.1 1078.4 510.8 1080.6 518.8C1082.8 526.8 1085.6 539.8 1088.0 549.3C1090.4 558.8 1092.1 566.8 1095.0 575.6C1097.9 584.4 1101.8 592.1 1105.6 602.0C1109.4 611.9 1113.8 625.7 1117.9 635.0C1122.0 644.3 1126.4 651.1 1130.2 657.9C1134.0 664.7 1136.3 670.7 1140.7 676.0C1145.1 681.3 1149.5 686.1 1156.5 689.5C1163.5 692.9 1174.0 694.5 1182.8 696.5C1191.5 698.5 1200.2 699.8 1209.0 701.8C1217.8 703.8 1226.6 705.9 1235.4 708.8C1244.2 711.7 1253.0 715.8 1261.8 719.3C1270.6 722.8 1279.2 726.6 1288.0 729.8C1296.8 733.0 1305.6 736.5 1314.4 738.6C1323.2 740.7 1333.1 741.6 1340.7 742.5C1348.3 743.4 1354.1 744.3 1360.0 744.0C1365.9 743.7 1369.2 742.4 1376.3 740.7C1383.4 739.0 1392.4 736.0 1402.6 733.7C1412.8 731.4 1426.0 728.8 1437.7 726.7C1449.4 724.7 1461.1 722.3 1472.8 721.4C1484.5 720.5 1497.8 720.5 1508.0 721.4C1518.2 722.3 1525.5 724.4 1534.2 726.7C1543.0 729.0 1553.2 733.1 1560.5 735.4C1567.8 737.7 1572.2 738.4 1578.0 740.7C1583.8 743.1 1589.7 746.0 1595.6 749.5C1601.5 753.0 1607.3 757.9 1613.2 761.8C1619.1 765.7 1625.2 769.5 1631.0 773.0C1636.8 776.5 1643.3 780.3 1648.0 783.0C1652.7 785.7 1654.1 785.9 1659.0 789.0C1663.9 792.1 1671.2 796.9 1677.4 801.5C1683.6 806.1 1689.8 811.5 1696.0 816.5C1702.2 821.5 1708.6 826.6 1714.9 831.5C1721.2 836.4 1727.4 841.6 1733.6 846.0C1739.8 850.4 1746.1 854.1 1752.3 857.6C1758.5 861.1 1764.8 863.9 1771.0 867.0C1777.2 870.1 1783.5 873.3 1789.7 876.4C1795.9 879.5 1802.2 882.9 1808.4 885.7C1814.6 888.5 1820.8 891.1 1827.0 893.0C1833.2 894.9 1838.0 895.9 1845.8 897.0C1853.6 898.1 1864.6 898.6 1874.0 899.5C1883.4 900.4 1892.7 901.8 1902.0 902.6C1911.3 903.4 1922.5 903.9 1930.0 904.4C1937.5 904.9 1944.2 905.2 1947.0 905.4" fill="none" stroke="#000" stroke-width="9.5" stroke-linejoin="round"/>
<path d="M1775 865 L1792 870.5 L1805 874 L1819 878 L1830 883 L1850 886 L1872 888 L1880 892.5 L1905 897.5 L1946 900.5 L1946 907 L1830 907 L1815 898 L1805 892 L1795 887 L1780 880 L1775 877 Z" fill="#000"/>
</svg>
</body></html>
